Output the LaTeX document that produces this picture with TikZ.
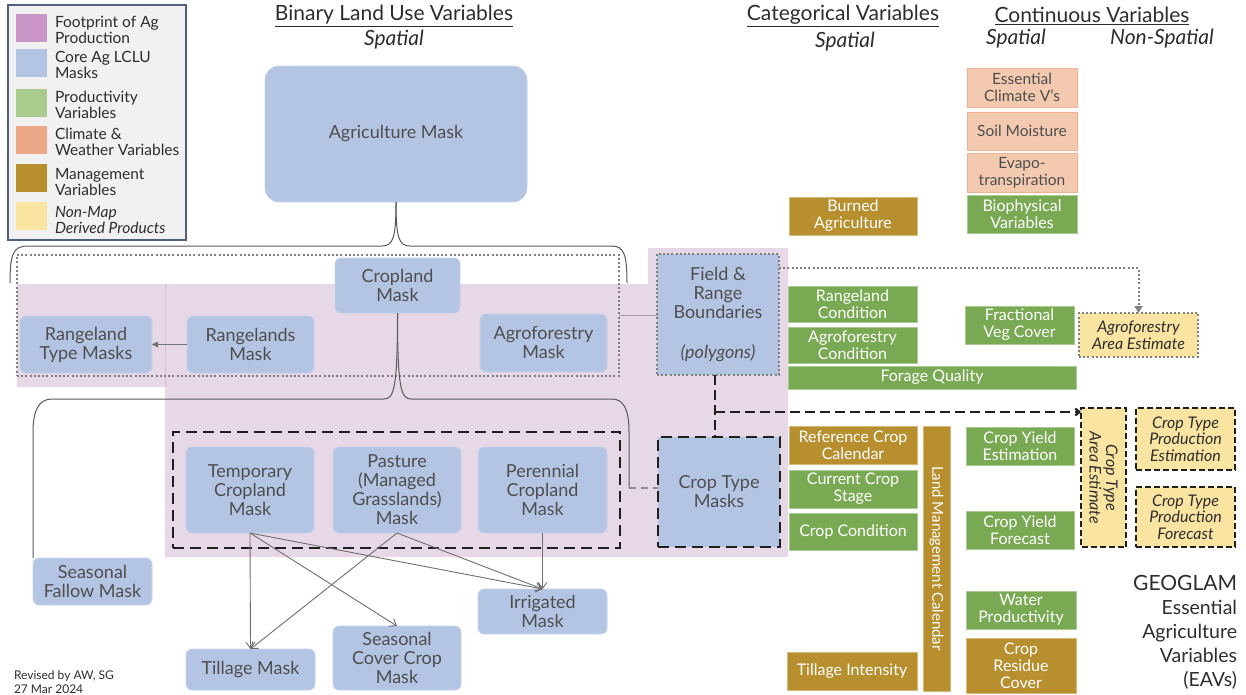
\documentclass[tikz,border=0pt]{standalone}
\usepackage{fontspec}
\setmainfont{Lato}
\usetikzlibrary{arrows.meta,calc}

\definecolor{maskblue}{RGB}{180,197,228}
\definecolor{maskline}{RGB}{196,209,234}
\definecolor{prodgreen}{RGB}{121,170,83}
\definecolor{prodline}{RGB}{170,204,145}
\definecolor{mgmtbrown}{RGB}{183,143,46}
\definecolor{mgmtline}{RGB}{214,186,120}
\definecolor{climfill}{RGB}{243,201,176}
\definecolor{climline}{RGB}{240,178,146}
\definecolor{nonmapyellow}{RGB}{250,228,161}
\definecolor{footpink}{RGB}{231,216,231}
\definecolor{footedge}{RGB}{214,192,214}
\definecolor{txtgray}{RGB}{78,78,78}
\definecolor{txtdark}{RGB}{45,45,45}
\definecolor{dotgray}{RGB}{128,128,128}
\definecolor{linkgray}{RGB}{110,110,110}
\definecolor{legframe}{RGB}{80,95,125}
\definecolor{legfill}{RGB}{241,241,241}
\definecolor{legpink}{RGB}{201,150,198}
\definecolor{leggreen}{RGB}{169,203,141}
\definecolor{legorange}{RGB}{235,169,135}

\newcommand\fs[2]{\fontsize{#1}{#2}\selectfont}

\begin{document}
\begin{tikzpicture}[x=1pt,y=-1pt,
  sz/.style 2 args={minimum width=#1pt, minimum height=#2pt},
  base/.style={inner sep=0pt, outer sep=0pt, align=center},
  mask/.style={base, fill=maskblue, draw=maskline, line width=0.6pt, rounded corners=6pt, text=txtgray, font=\fs{18}{19}},
  prod/.style={base, fill=prodgreen, draw=prodline, line width=0.8pt, text=white, font=\fs{16}{17}},
  mgmt/.style={base, fill=mgmtbrown, draw=mgmtline, line width=0.8pt, text=white, font=\fs{16}{17}},
  clim/.style={base, fill=climfill, draw=climline, line width=0.8pt, text=txtgray, font=\fs{15.5}{17}},
  nonmap/.style={base, fill=nonmapyellow, text=txtdark, font=\fs{16}{16.5}\itshape},
  dotbox/.style={draw=dotgray, line width=2pt, dash pattern=on 2pt off 2.2pt},
  blkdash/.style={draw=black!88, line width=2.8pt, dash pattern=on 11pt off 6pt},
  ydash/.style={draw=black!88, line width=2.4pt, dash pattern=on 6pt off 3pt},
  brace/.style={draw=black!65, line width=1pt},
  link/.style={draw=linkgray, line width=0.9pt, -{Straight Barb[length=6pt,width=9pt]}},
  swatch/.style={base, sz={31}{28}},
  legtext/.style={base, anchor=west, align=left, text=txtdark, font=\fs{15.5}{16}},
  head/.style={base, text=txtdark, font=\fs{21}{22}}
]
\useasboundingbox (0,0) rectangle (1246,694);

% footprint of agricultural production (background)
\fill[footpink] (17,284) -- (648,284) -- (648,248) -- (788,248) -- (788,557)
  -- (165,557) -- (165,387) -- (17,387) -- cycle;
\draw[footedge, line width=0.8pt] (165,284) -- (165,387);

% legend
\node[base, fill=legfill, draw=legframe, line width=1.2pt, sz={178}{235}] (legend) at (97,122.5) {};
\node[swatch, fill=legpink]      (lg1) at (31,28)    {};
\node[swatch, fill=maskblue]     (lg2) at (31,63)    {};
\node[swatch, fill=leggreen]     (lg3) at (31,102.5) {};
\node[swatch, fill=legorange]    (lg4) at (31,139.5) {};
\node[swatch, fill=mgmtbrown]    (lg5) at (31,178)   {};
\node[swatch, fill=nonmapyellow] (lg6) at (31,216)   {};
\node[legtext] (lt1) at (55,29.5)  {Footprint of Ag\\Production};
\node[legtext] (lt2) at (55,65)    {Core Ag LCLU\\Masks};
\node[legtext] (lt3) at (55,105)   {Productivity\\Variables};
\node[legtext] (lt4) at (55,142)   {Climate \&\\Weather Variables};
\node[legtext] (lt5) at (55,182)   {Management\\Variables};
\node[legtext, font=\fs{15.5}{16}\itshape] (lt6) at (55,220) {Non-Map\\Derived Products};

% column headings
\node[head] (hbin)  at (394,16)  {\underline{Binary Land Use Variables}};
\node[head, font=\fs{21}{22}\itshape] (hbins) at (394,40) {Spatial};
\node[head] (hcat)  at (843,16)  {\underline{Categorical Variables}};
\node[head, font=\fs{21}{22}\itshape] (hcats) at (845,42) {Spatial};
\node[head] (hcon)  at (1092,16) {\underline{Continuous Variables}};
\node[head, font=\fs{21}{22}\itshape] (hcons) at (1016,39) {Spatial};
\node[head, font=\fs{21}{22}\itshape] (hconn) at (1162,39) {Non-Spatial};

% grouping frames
\node[base, dotbox, sz={602}{121}] (rowbox) at (318,315.5) {};
\node[base, blkdash, sz={447}{116}] (perbox) at (396.5,490) {};

% binary masks
\node[mask, rounded corners=14pt, sz={262}{136}] (agri) at (396,134) {Agriculture Mask};
\node[mask, sz={125}{55}]  (crop)   at (397.5,285.5) {Cropland\\Mask};
\node[mask, sz={132}{57}]  (rtype)  at (86,344.5)    {Rangeland\\Type Masks};
\node[mask, sz={127}{57}]  (rmask)  at (250.5,344.5) {Rangelands\\Mask};
\node[mask, sz={127}{58}]  (agmask) at (543.5,343)   {Agroforestry\\Mask};
\node[mask, rounded corners=0pt, draw=none, sz={122}{121}] (field) at (718,314.5)
  {Field \&\\Range\\Boundaries\\[21pt]\textit{(polygons)}};
\node[base, dotbox, sz={122}{121}] at (field.center) {};
\node[mask, sz={128}{86}]  (temp)   at (250,490)     {Temporary\\Cropland\\Mask};
\node[mask, sz={128}{86}]  (past)   at (397,490)     {Pasture\\(Managed\\Grasslands)\\Mask};
\node[mask, sz={129}{86}]  (peren)  at (542.5,490)   {Perennial\\Cropland\\Mask};
\node[mask, rounded corners=0pt, draw=none, sz={122}{110}] (ctype) at (719,492) {Crop Type\\Masks};
\node[base, blkdash, sz={122}{110}] at (ctype.center) {};
\node[mask, sz={119}{47}]  (fallow) at (92.5,581.5)  {Seasonal\\Fallow Mask};
\node[mask, sz={129}{41}]  (till)   at (250.5,669.5) {Tillage Mask};
\node[mask, sz={128}{64}]  (cover)  at (397,658)     {Seasonal\\Cover Crop\\Mask};
\node[mask, sz={129}{45}]  (irrig)  at (542.5,611.5) {Irrigated\\Mask};

% categorical variables
\node[mgmt, sz={128}{38}] (burn)    at (853,216)   {Burned\\Agriculture};
\node[prod, sz={129}{36}] (rcond)   at (852.5,304) {Rangeland\\Condition};
\node[prod, sz={129}{36}] (acond)   at (852.5,345) {Agroforestry\\Condition};
\node[prod, sz={288}{23}] (forage)  at (932,377.5) {Forage Quality};
\node[mgmt, sz={128}{38}] (refcal)  at (853,445)   {Reference Crop\\Calendar};
\node[prod, sz={128}{38}] (stage)   at (853,489)   {Current Crop\\Stage};
\node[prod, sz={128}{37}] (ccond)   at (853,531.5) {Crop Condition};
\node[mgmt, sz={130}{38}] (tillint) at (852,671)   {Tillage Intensity};
\node[mgmt, rotate=-90, font=\fs{15}{18}, sz={265}{27}] (lmc) at (936.5,558.5) {Land Management Calendar};

% continuous variables
\node[clim, sz={110}{39}] (ecv)     at (1022,87.5)  {Essential\\Climate V’s};
\node[clim, sz={110}{38}] (soil)    at (1022,131)   {Soil Moisture};
\node[clim, sz={110}{39}] (evapo)   at (1022,172.5) {Evapo-\\transpiration};
\node[prod, sz={110}{38}] (bio)     at (1022,214)   {Biophysical\\Variables};
\node[prod, sz={109}{38}] (fvc)     at (1019.5,325) {Fractional\\Veg Cover};
\node[prod, sz={108}{38}] (yest)    at (1020,446)   {Crop Yield\\Estimation};
\node[prod, sz={108}{38}] (yfc)     at (1020,530)   {Crop Yield\\Forecast};
\node[prod, sz={110}{38}] (water)   at (1021,610)   {Water\\Productivity};
\node[mgmt, sz={110}{55}] (residue) at (1021,665.5) {Crop\\Residue\\Cover};

% non-map derived products
\node[nonmap, dotbox, sz={119}{44}] (agest) at (1138.5,335) {Agroforestry\\Area Estimate};
\node[nonmap, ydash, rotate=-90, sz={139}{45}] (ctarea) at (1103.5,477.5) {Crop Type\\Area Estimate};
\node[nonmap, ydash, sz={99}{62}] (ctpe) at (1185.5,439) {Crop Type\\Production\\Estimation};
\node[nonmap, ydash, sz={99}{60}] (ctpf) at (1185.5,517) {Crop Type\\Production\\Forecast};

% title block and revision note
\node[base, anchor=east, text=txtdark, font=\fs{21}{24}] (geo) at (1237,583) {GEOGLAM};
\node[base, anchor=north east, align=right, text=txtdark, font=\fs{19.5}{24}] (eav) at (1237,600)
  {Essential\\Agriculture\\Variables\\(EAVs)};
\node[base, anchor=west, align=left, text=txtdark, font=\fs{12}{14}] (rev) at (14,682)
  {Revised by AW, SG\\27 Mar 2024};

% brace from the agriculture mask
\draw[brace] (agri.south) .. controls (396,238) and (393,246) .. (382,246) -- (28,246)
  .. controls (13,246) and (10,254) .. (10,283);
\draw[brace] (agri.south) .. controls (396,238) and (399,246) .. (410,246) -- (612,246)
  .. controls (624,246) and (627,255) .. (627,283);

% brace from the cropland mask
\coordinate (bR) at (629,488);
\draw[brace] (crop.south) .. controls (397.5,388) and (394,399) .. (384,399) -- (52,399)
  .. controls (39,399) and (33,410) .. (33,432) -- (fallow.north west);
\draw[brace] (crop.south) .. controls (397.5,388) and (401,399) .. (411,399) -- (612,399)
  .. controls (624,399) and (629,410) .. (629,432) -- (bR);
\draw[draw=linkgray!80, line width=1.6pt, dash pattern=on 7pt off 5pt] (bR) -- (bR -| ctype.west);

% links among the core masks
\draw[draw=black!55, line width=0.9pt, -{Triangle[length=6pt,width=6pt]}] (rmask.west) -- (rtype.east);
\draw[draw=footedge!80!black, line width=0.8pt] (rowbox.east) -- (rowbox.east -| field.west);
\draw[link] (temp.south) -- (till.north);
\draw[link] (temp.south) -- (cover.north);
\draw[link] (temp.south) -- (irrig.north);
\draw[link] (past.south) -- (till.north);
\draw[link] (past.south) -- (irrig.north);
\draw[link] (peren.south) -- (irrig.north);

% field boundaries feed the crop type and area products
\draw[draw=dotgray, line width=2pt, dash pattern=on 2pt off 2.2pt, -{Triangle[length=7pt,width=8pt]}]
  ($(field.north east)+(0,14)$) -| (agest.north);
\coordinate (jn) at ($(field.south)+(-3,37)$);
\draw[draw=black!88, line width=2.2pt, dash pattern=on 10pt off 5pt] (field.south -| jn) -- (ctype.north -| jn);
\draw[draw=black!88, line width=2.2pt, dash pattern=on 10pt off 5pt, -{Straight Barb[length=4pt,width=7pt]}]
  (jn) -- (jn -| ctarea.south);
\end{tikzpicture}
\end{document}
